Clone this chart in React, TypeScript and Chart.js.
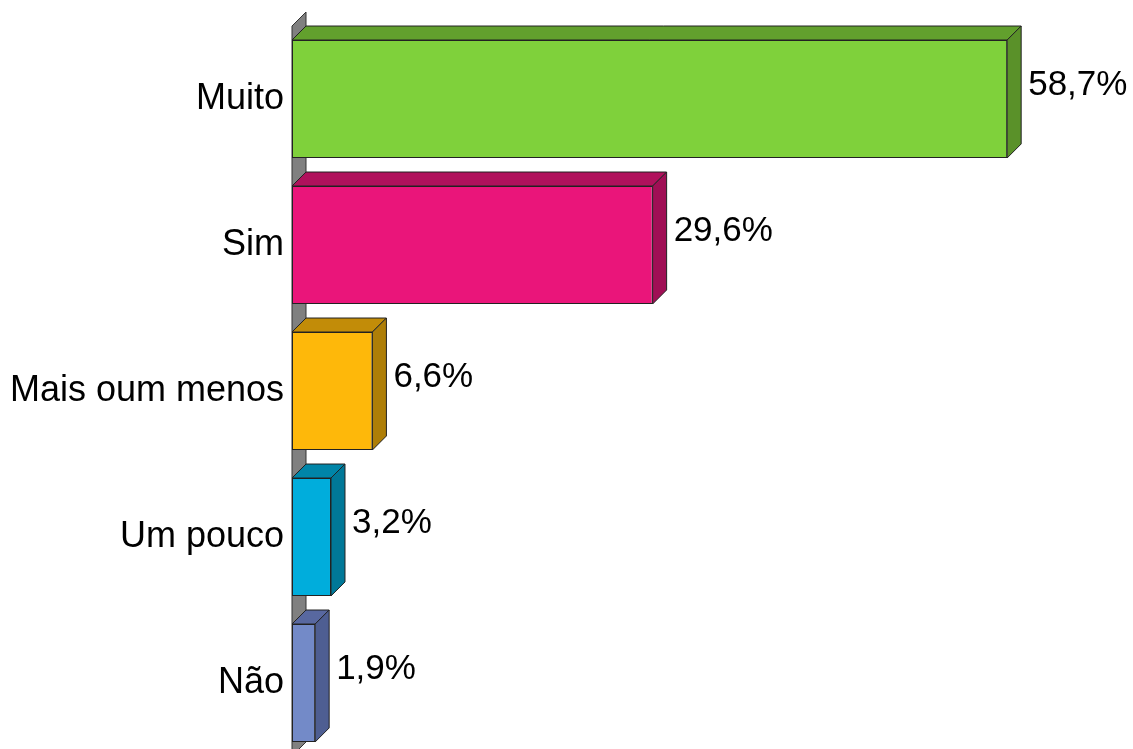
import React, { useEffect, useRef } from "react";
import { Chart, registerables } from "chart.js";

Chart.register(...registerables);

const categories = ["Muito", "Sim", "Mais oum menos", "Um pouco", "Não"];
const values = [58.7, 29.6, 6.6, 3.2, 1.9];
const valueLabels = ["58,7%", "29,6%", "6,6%", "3,2%", "1,9%"];
const frontColors = ["#7FD13B", "#EA157A", "#FEB80A", "#00ADDC", "#738AC8"];
const topColors = ["#62A02D", "#B0115C", "#C28C08", "#0085A8", "#5868A0"];
const sideColors = ["#5A9129", "#A00F55", "#AE7E07", "#007898", "#4E5E92"];

const DEPTH = 14;
const FONT = "'Liberation Sans', Arial, sans-serif";

const threeD = {
  id: "threeD",
  beforeDatasetsDraw(chart: any) {
    const { ctx, chartArea } = chart;
    const l = chartArea.left;
    ctx.save();
    ctx.beginPath();
    ctx.moveTo(l, chartArea.top);
    ctx.lineTo(l + DEPTH, chartArea.top - DEPTH);
    ctx.lineTo(l + DEPTH, chartArea.bottom - DEPTH);
    ctx.lineTo(l, chartArea.bottom);
    ctx.closePath();
    ctx.fillStyle = "#808080";
    ctx.fill();
    ctx.strokeStyle = "#333333";
    ctx.lineWidth = 1;
    ctx.stroke();
    ctx.restore();
  },
  afterDatasetsDraw(chart: any) {
    const { ctx } = chart;
    const meta = chart.getDatasetMeta(0);
    ctx.save();
    ctx.lineWidth = 1;
    ctx.strokeStyle = "#222222";
    meta.data.forEach((bar: any, i: number) => {
      const left = bar.base;
      const right = bar.x;
      const top = bar.y - bar.height / 2;
      const bottom = bar.y + bar.height / 2;
      ctx.beginPath();
      ctx.moveTo(left, top);
      ctx.lineTo(left + DEPTH, top - DEPTH);
      ctx.lineTo(right + DEPTH, top - DEPTH);
      ctx.lineTo(right, top);
      ctx.closePath();
      ctx.fillStyle = topColors[i];
      ctx.fill();
      ctx.stroke();
      ctx.beginPath();
      ctx.moveTo(right, top);
      ctx.lineTo(right + DEPTH, top - DEPTH);
      ctx.lineTo(right + DEPTH, bottom - DEPTH);
      ctx.lineTo(right, bottom);
      ctx.closePath();
      ctx.fillStyle = sideColors[i];
      ctx.fill();
      ctx.stroke();
      ctx.fillStyle = "#000000";
      ctx.font = `35px ${FONT}`;
      ctx.textAlign = "left";
      ctx.textBaseline = "middle";
      ctx.fillText(valueLabels[i], right + DEPTH + 7, bar.y - 14);
    });
    ctx.restore();
  },
};

export default function App() {
  const ref = useRef<HTMLCanvasElement>(null);
  useEffect(() => {
    document.body.style.margin = "0";
    const chart = new Chart(ref.current!, {
      type: "bar",
      data: {
        labels: categories,
        datasets: [
          {
            data: values,
            backgroundColor: frontColors,
            borderColor: "#222222",
            borderWidth: 1,
            borderSkipped: false,
            categoryPercentage: 1,
            barPercentage: 0.808,
          },
        ],
      },
      options: {
        indexAxis: "y",
        responsive: false,
        animation: false,
        layout: { padding: { top: 26, right: 110, bottom: 34, left: 0 } },
        plugins: { legend: { display: false }, tooltip: { enabled: false }, title: { display: false } },
        scales: {
          x: { display: false, min: 0, max: 60 },
          y: {
            grid: { display: false, drawTicks: false },
            border: { display: false },
            ticks: { color: "#000000", font: { size: 36, family: FONT }, padding: 8 },
            afterFit: (scale: any) => {
              scale.width = 292;
              scale.paddingTop = 0;
              scale.paddingBottom = 0;
            },
          },
        },
      },
      plugins: [threeD],
    });
    return () => chart.destroy();
  }, []);
  return (
    <div style={{ position: "fixed", left: 0, top: 0, width: 1133, height: 749, overflow: "hidden", background: "#fff" }}>
      <canvas ref={ref} width={1133} height={790} style={{ display: "block" }} />
    </div>
  );
}
